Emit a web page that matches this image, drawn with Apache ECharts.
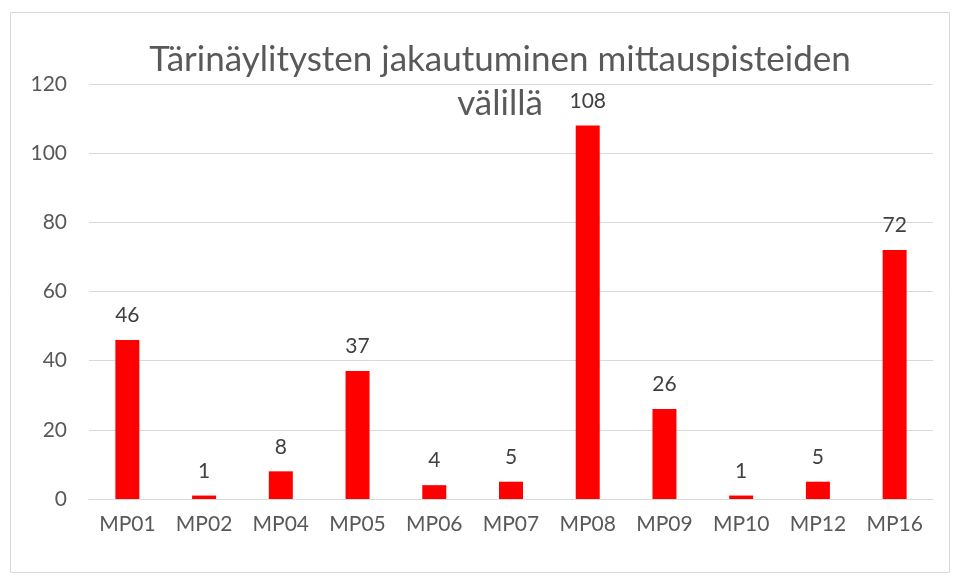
<!DOCTYPE html>
<html>
<head>
<meta charset="utf-8">
<script src="https://cdn.jsdelivr.net/npm/echarts@6/dist/echarts.min.js"></script>
<style>
  html, body { margin: 0; padding: 0; background: #fff; }
  #chart { width: 955px; height: 579px; }
</style>
</head>
<body>
<div id="chart"></div>
<script>
// data
const categories = ['MP01', 'MP02', 'MP04', 'MP05', 'MP06', 'MP07', 'MP08', 'MP09', 'MP10', 'MP12', 'MP16'];
const counts = [46, 1, 8, 37, 4, 5, 108, 26, 1, 5, 72];
const yTicks = [0, 20, 40, 60, 80, 100, 120];

const font = 'Lato, "Open Sans", sans-serif';
let myChart = echarts.init(document.getElementById('chart'));

var option = {
    backgroundColor: '#fff',
    textStyle: { fontFamily: font },
    animation: false,
    title: {
        text: 'Tärinäylitysten jakautuminen mittauspisteiden\nvälillä',
        left: 495,
        top: 33,
        textAlign: 'center',
        textStyle: { fontFamily: font, fontWeight: 400, fontSize: 35, color: '#595959', lineHeight: 44 }
    },
    // chart border
    graphic: [{
        type: 'rect',
        shape: { x: 10.5, y: 12.5, width: 939, height: 560 },
        style: { fill: 'none', stroke: '#d9d9d9', lineWidth: 1 },
        silent: true
    }],
    grid: { left: 89, right: 22, top: 84, bottom: 80 },
    xAxis: {
        type: 'category',
        data: categories,
        axisLine: { lineStyle: { color: '#d9d9d9', width: 1 } },
        axisTick: { show: false },
        axisLabel: { color: '#595959', fontSize: 21, margin: 15, fontFamily: font }
    },
    yAxis: {
        type: 'value',
        min: yTicks[0],
        max: yTicks[yTicks.length - 1],
        interval: 20,
        axisLine: { show: false },
        axisTick: { show: false },
        splitLine: { lineStyle: { color: '#d9d9d9', width: 1 } },
        axisLabel: { color: '#595959', fontSize: 21, margin: 22, fontFamily: font }
    },
    series: [{
        type: 'bar',
        data: counts,
        barWidth: 24,
        itemStyle: { color: '#ff0000' },
        label: {
            show: true,
            position: 'top',
            distance: 14,
            color: '#404040',
            fontSize: 21,
            fontFamily: font
        }
    }]
};

myChart.setOption(option);
</script>
</body>
</html>
